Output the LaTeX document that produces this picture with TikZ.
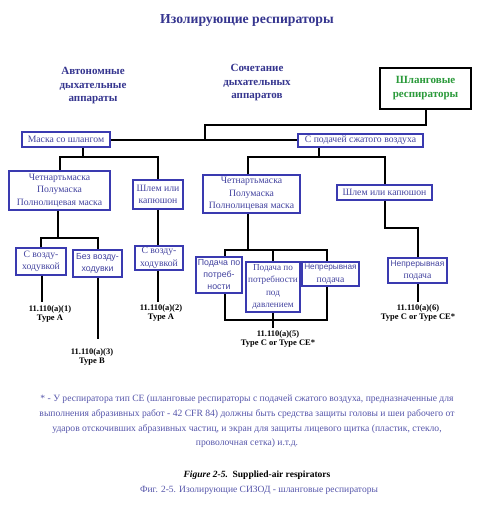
\documentclass[tikz,border=0pt]{standalone}
\usepackage{fontspec}
\setmainfont{Liberation Serif}
\newfontfamily\sansf{Liberation Sans}
\begin{document}
\begin{tikzpicture}[x=1pt,y=-1pt,
  conn/.style={line width=2pt,black},
  bx/.style={draw=boxc,line width=1.3pt,fill=white,align=center,inner sep=0pt,text=txtc,font=\fontsize{9.7}{12.5}\selectfont},
  bxs/.style={bx,font=\sansf\fontsize{8.8}{12}\selectfont},
  head/.style={align=center,text=headc,font=\bfseries\fontsize{11}{13.5}\selectfont},
  lab/.style={align=center,font=\bfseries\fontsize{8.5}{9}\selectfont,inner sep=1pt}]
\definecolor{boxc}{HTML}{3A3AB0}
\definecolor{txtc}{HTML}{4444A0}
\definecolor{headc}{HTML}{35358F}
\definecolor{greenc}{HTML}{2A9A3A}
\definecolor{footc}{HTML}{5555AA}
\useasboundingbox (0,0) rectangle (493,512);
\fill[white] (0,0) rectangle (493,512);
% titles
\node[head,font=\bfseries\fontsize{13.7}{15}\selectfont] (title) at (247,20) {Изолирующие респираторы};
\node[head] (auto) at (93,86) {Автономные\\дыхательные\\аппараты};
\node[head] (comb) at (257,83) {Сочетание\\дыхательных\\аппаратов};
\node[draw=black,line width=1.8pt,minimum width=91,minimum height=41,inner sep=0pt,align=center,text=greenc,font=\bfseries\fontsize{11}{14}\selectfont] (hose) at (425.5,88.5) {Шланговые\\респираторы};
% boxes
\node[bx,minimum width=88,minimum height=15] (mask) at (66,139.5) {Маска со шлангом};
\node[bx,minimum width=125,minimum height=13] (supply) at (360.5,140.5) {С подачей сжатого воздуха};
\node[bx,minimum width=101,minimum height=39] (quadL) at (59.5,190.5) {Четнартьмаска\\Полумаска\\Полнолицевая маска};
\node[bx,minimum width=50,minimum height=29] (helmL) at (158,194.5) {Шлем или\\капюшон};
\node[bx,minimum width=50,minimum height=27] (withL) at (41,261.5) {С возду-\\ходувкой};
\node[bxs,minimum width=49,minimum height=27] (without) at (97.5,263.5) {Без возду-\\ходувки};
\node[bx,minimum width=48,minimum height=24] (withM) at (159,258) {С возду-\\ходувкой};
\node[bx,minimum width=97,minimum height=38] (quadR) at (251.5,194) {Четнартьмаска\\Полумаска\\Полнолицевая маска};
\node[bx,minimum width=95,minimum height=15] (helmR) at (384.5,192.5) {Шлем или капюшон};
% connectors (drawn before lower boxes so boxes cover them)
\coordinate (jh) at (205,125);
\draw[conn] (hose.south) |- (jh) -- (jh |- mask.east);
\draw[conn] (mask.east) -- (mask.east -| supply.west);
\coordinate (a1) at (83,157);
\draw[conn] (mask.south -| a1) -- (a1);
\draw[conn] (quadL.north) |- (a1) -| (helmL.north);
\coordinate (a2) at (58,238);
\draw[conn] (quadL.south -| a2) -- (a2);
\draw[conn] (withL.north) |- (a2) -| (without.north);
\draw[conn] (helmL.south) -- (helmL.south |- withM.north);
\coordinate (b1) at (319,157);
\coordinate (b2) at (248,157);
\draw[conn] (supply.south -| b1) -- (b1);
\draw[conn] (b2 |- quadR.north) -- (b2) -- (b1) -| (helmR.north);
\coordinate (b3) at (248,250);
\coordinate (b4) at (225,250);
\coordinate (b5) at (327,250);
\coordinate (b6) at (225,320);
\coordinate (b7) at (327,320);
\draw[conn] (b3 |- quadR.south) -- (b3);
\draw[conn] (b4) -- (b6) -- (b7) -- (b5) -- cycle;
\coordinate (b8) at (273,250);
\coordinate (e5) at (273,328);
\draw[conn] (b8) -- (e5);
\coordinate (c2) at (418,228);
\draw[conn] (helmR.south) |- (c2) -- (c2 |- 0,302);
% lower boxes
\node[bxs,minimum width=46,minimum height=36] (demand) at (219,275) {Подача по\\потреб-\\ности};
\node[bx,minimum width=54,minimum height=50,font=\fontsize{9.2}{12.5}\selectfont] (pdemand) at (273,287) {Подача по\\потребности\\под\\давлением};
\node[bx,minimum width=57,minimum height=24] (contM) at (330.5,274) {{\sansf\fontsize{8.2}{12}\selectfont Непрерывная}\\подача};
\node[bx,minimum width=59,minimum height=25] (contR) at (417.5,270.5) {{\sansf\fontsize{8.4}{12}\selectfont Непрерывная}\\подача};
% leaf lines and labels
\coordinate (e1) at (42,302);
\coordinate (e2) at (158,302);
\coordinate (e3) at (98,339);
\draw[conn] (withL.south -| e1) -- (e1);
\draw[conn] (without.south -| e3) -- (e3);
\draw[conn] (withM.south -| e2) -- (e2);
\node[lab] (lab1) at (50,314) {11.110(a)(1)\\Type A};
\node[lab] (lab2) at (161,313) {11.110(a)(2)\\Type A};
\node[lab] (lab3) at (92,356.5) {11.110(a)(3)\\Type B};
\node[lab] (lab5) at (278,339) {11.110(a)(5)\\Type C or Type CE*};
\node[lab] (lab6) at (418,313) {11.110(a)(6)\\Type C or Type CE*};
% footnote
\node[align=center,text=footc,font=\fontsize{9.6}{14.6}\selectfont,inner sep=0pt] (foot) at (247,421.5) {* - У респиратора тип CE (шланговые респираторы с подачей сжатого воздуха, предназначенные для\\выполнения абразивных работ - 42 CFR 84) должны быть средства защиты головы и шеи рабочего от\\ударов отскочивших абразивных частиц, и экран для защиты лицевого щитка (пластик, стекло,\\проволочная сетка) и.т.д.};
\node[font=\bfseries\fontsize{9.5}{11}\selectfont,inner sep=0pt] (fig) at (257,475) {\textit{Figure 2-5.}\ \ Supplied-air respirators};
\node[text=footc,font=\fontsize{9.5}{11}\selectfont,inner sep=0pt] (fig2) at (259,490) {Фиг. 2-5. Изолирующие СИЗОД - шланговые респираторы};
\end{tikzpicture}
\end{document}
